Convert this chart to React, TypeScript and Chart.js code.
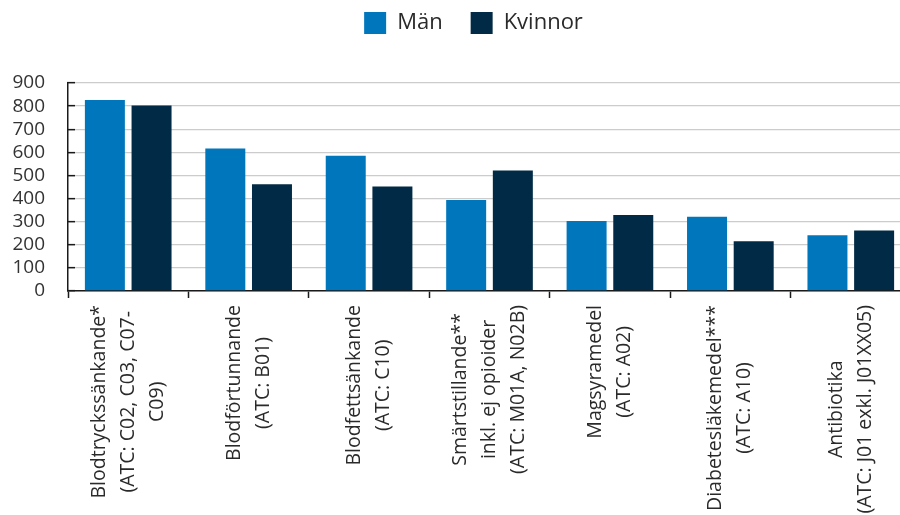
import React, { useEffect, useRef } from "react";
import { Chart, registerables } from "chart.js";

Chart.register(...registerables);

const categories: string[][] = [
  ["Blodtryckssänkande*", "(ATC: C02, C03, C07-", "C09)"],
  ["Blodförtunnande", "(ATC: B01)"],
  ["Blodfettsänkande", "(ATC: C10)"],
  ["Smärtstillande**", "inkl. ej opioider", "(ATC: M01A, N02B)"],
  ["Magsyramedel", "(ATC: A02)"],
  ["Diabetesläkemedel***", "(ATC: A10)"],
  ["Antibiotika", "(ATC: J01 exkl. J01XX05)"],
];

const seriesNames = ["Män", "Kvinnor"];
const menValues = [826, 617, 585, 394, 303, 321, 241];
const womenValues = [803, 462, 452, 521, 329, 215, 262];

const yMin = 0;
const yMax = 900;
const yStep = 100;

const FONT = "'Open Sans', sans-serif";
const X_FONT_SIZE = 19.5;
const X_LINE_H = 29;

const xLabelPlugin = {
  id: "centeredXLabels",
  afterDraw(chart: any) {
    const scale = chart.scales.x;
    const ctx = chart.ctx as CanvasRenderingContext2D;
    ctx.save();
    ctx.font = `${X_FONT_SIZE}px ${FONT}`;
    ctx.fillStyle = "#2a2a2a";
    ctx.textBaseline = "middle";
    ctx.textAlign = "center";
    categories.forEach((lines, i) => {
      const x = scale.getPixelForTick(i);
      const maxW = Math.max(...lines.map((l) => ctx.measureText(l).width));
      const top = scale.top + 14;
      ctx.save();
      ctx.translate(x, top + maxW / 2);
      ctx.rotate(-Math.PI / 2);
      lines.forEach((l, j) => {
        ctx.fillText(l, 0, (j - (lines.length - 1) / 2) * X_LINE_H);
      });
      ctx.restore();
    });
    ctx.restore();
  },
};

export default function App() {
  const ref = useRef<HTMLCanvasElement | null>(null);

  useEffect(() => {
    if (!ref.current) return;
    const chart = new Chart(ref.current, {
      type: "bar",
      data: {
        labels: categories,
        datasets: [
          {
            label: seriesNames[0],
            data: menValues,
            backgroundColor: "#0077bd",
            borderWidth: 0,
            categoryPercentage: 0.775,
            barPercentage: 0.857,
          },
          {
            label: seriesNames[1],
            data: womenValues,
            backgroundColor: "#002a45",
            borderWidth: 0,
            categoryPercentage: 0.775,
            barPercentage: 0.857,
          },
        ],
      },
      options: {
        responsive: false,
        animation: false,
        layout: { padding: { top: -16, left: 0, right: 0, bottom: 0 } },
        plugins: {
          legend: {
            position: "top",
            labels: {
              boxWidth: 22,
              boxHeight: 22,
              padding: 28,
              color: "#2a2a2a",
              font: { family: FONT, size: 22 },
            },
          },
          title: {
            display: true,
            text: "",
            weight: 500,
            padding: 0,
            font: { size: 10, lineHeight: 3.9 },
          } as any,
          tooltip: { enabled: false },
        },
        scales: {
          x: {
            offset: true,
            grid: {
              offset: true,
              drawOnChartArea: false,
              drawTicks: true,
              tickLength: 7,
              tickColor: "#1a1a1a",
              tickWidth: 1.5,
            },
            border: { display: true, color: "#1a1a1a", width: 1.5 },
            ticks: { display: false },
            afterFit: (s: any) => {
              s.height = 224;
            },
          },
          y: {
            min: yMin,
            max: yMax,
            grid: {
              color: "#cccccc",
              lineWidth: 1.3,
              drawTicks: true,
              tickLength: -7,
              tickColor: "#1a1a1a",
              tickWidth: 1.5,
            },
            border: { display: true, color: "#1a1a1a", width: 1.5 },
            ticks: {
              stepSize: yStep,
              autoSkip: false,
              padding: 30,
              color: "#333",
              font: { family: FONT, size: 19, lineHeight: 1 },
            },
            afterFit: (s: any) => {
              s.width = 68;
            },
          },
          y2: {
            position: "right",
            display: true,
            grid: { display: false },
            border: { display: false },
            ticks: { display: false },
            afterFit: (s: any) => {
              s.width = 36;
            },
          },
        },
      },
      plugins: [xLabelPlugin],
    });
    return () => chart.destroy();
  }, []);

  return (
    <div style={{ position: "absolute", left: 0, top: 0, width: 900, height: 515, overflow: "hidden", background: "#fff" }}>
      <canvas ref={ref} width={947} height={515} style={{ width: 947, height: 515, display: "block" }} />
    </div>
  );
}
